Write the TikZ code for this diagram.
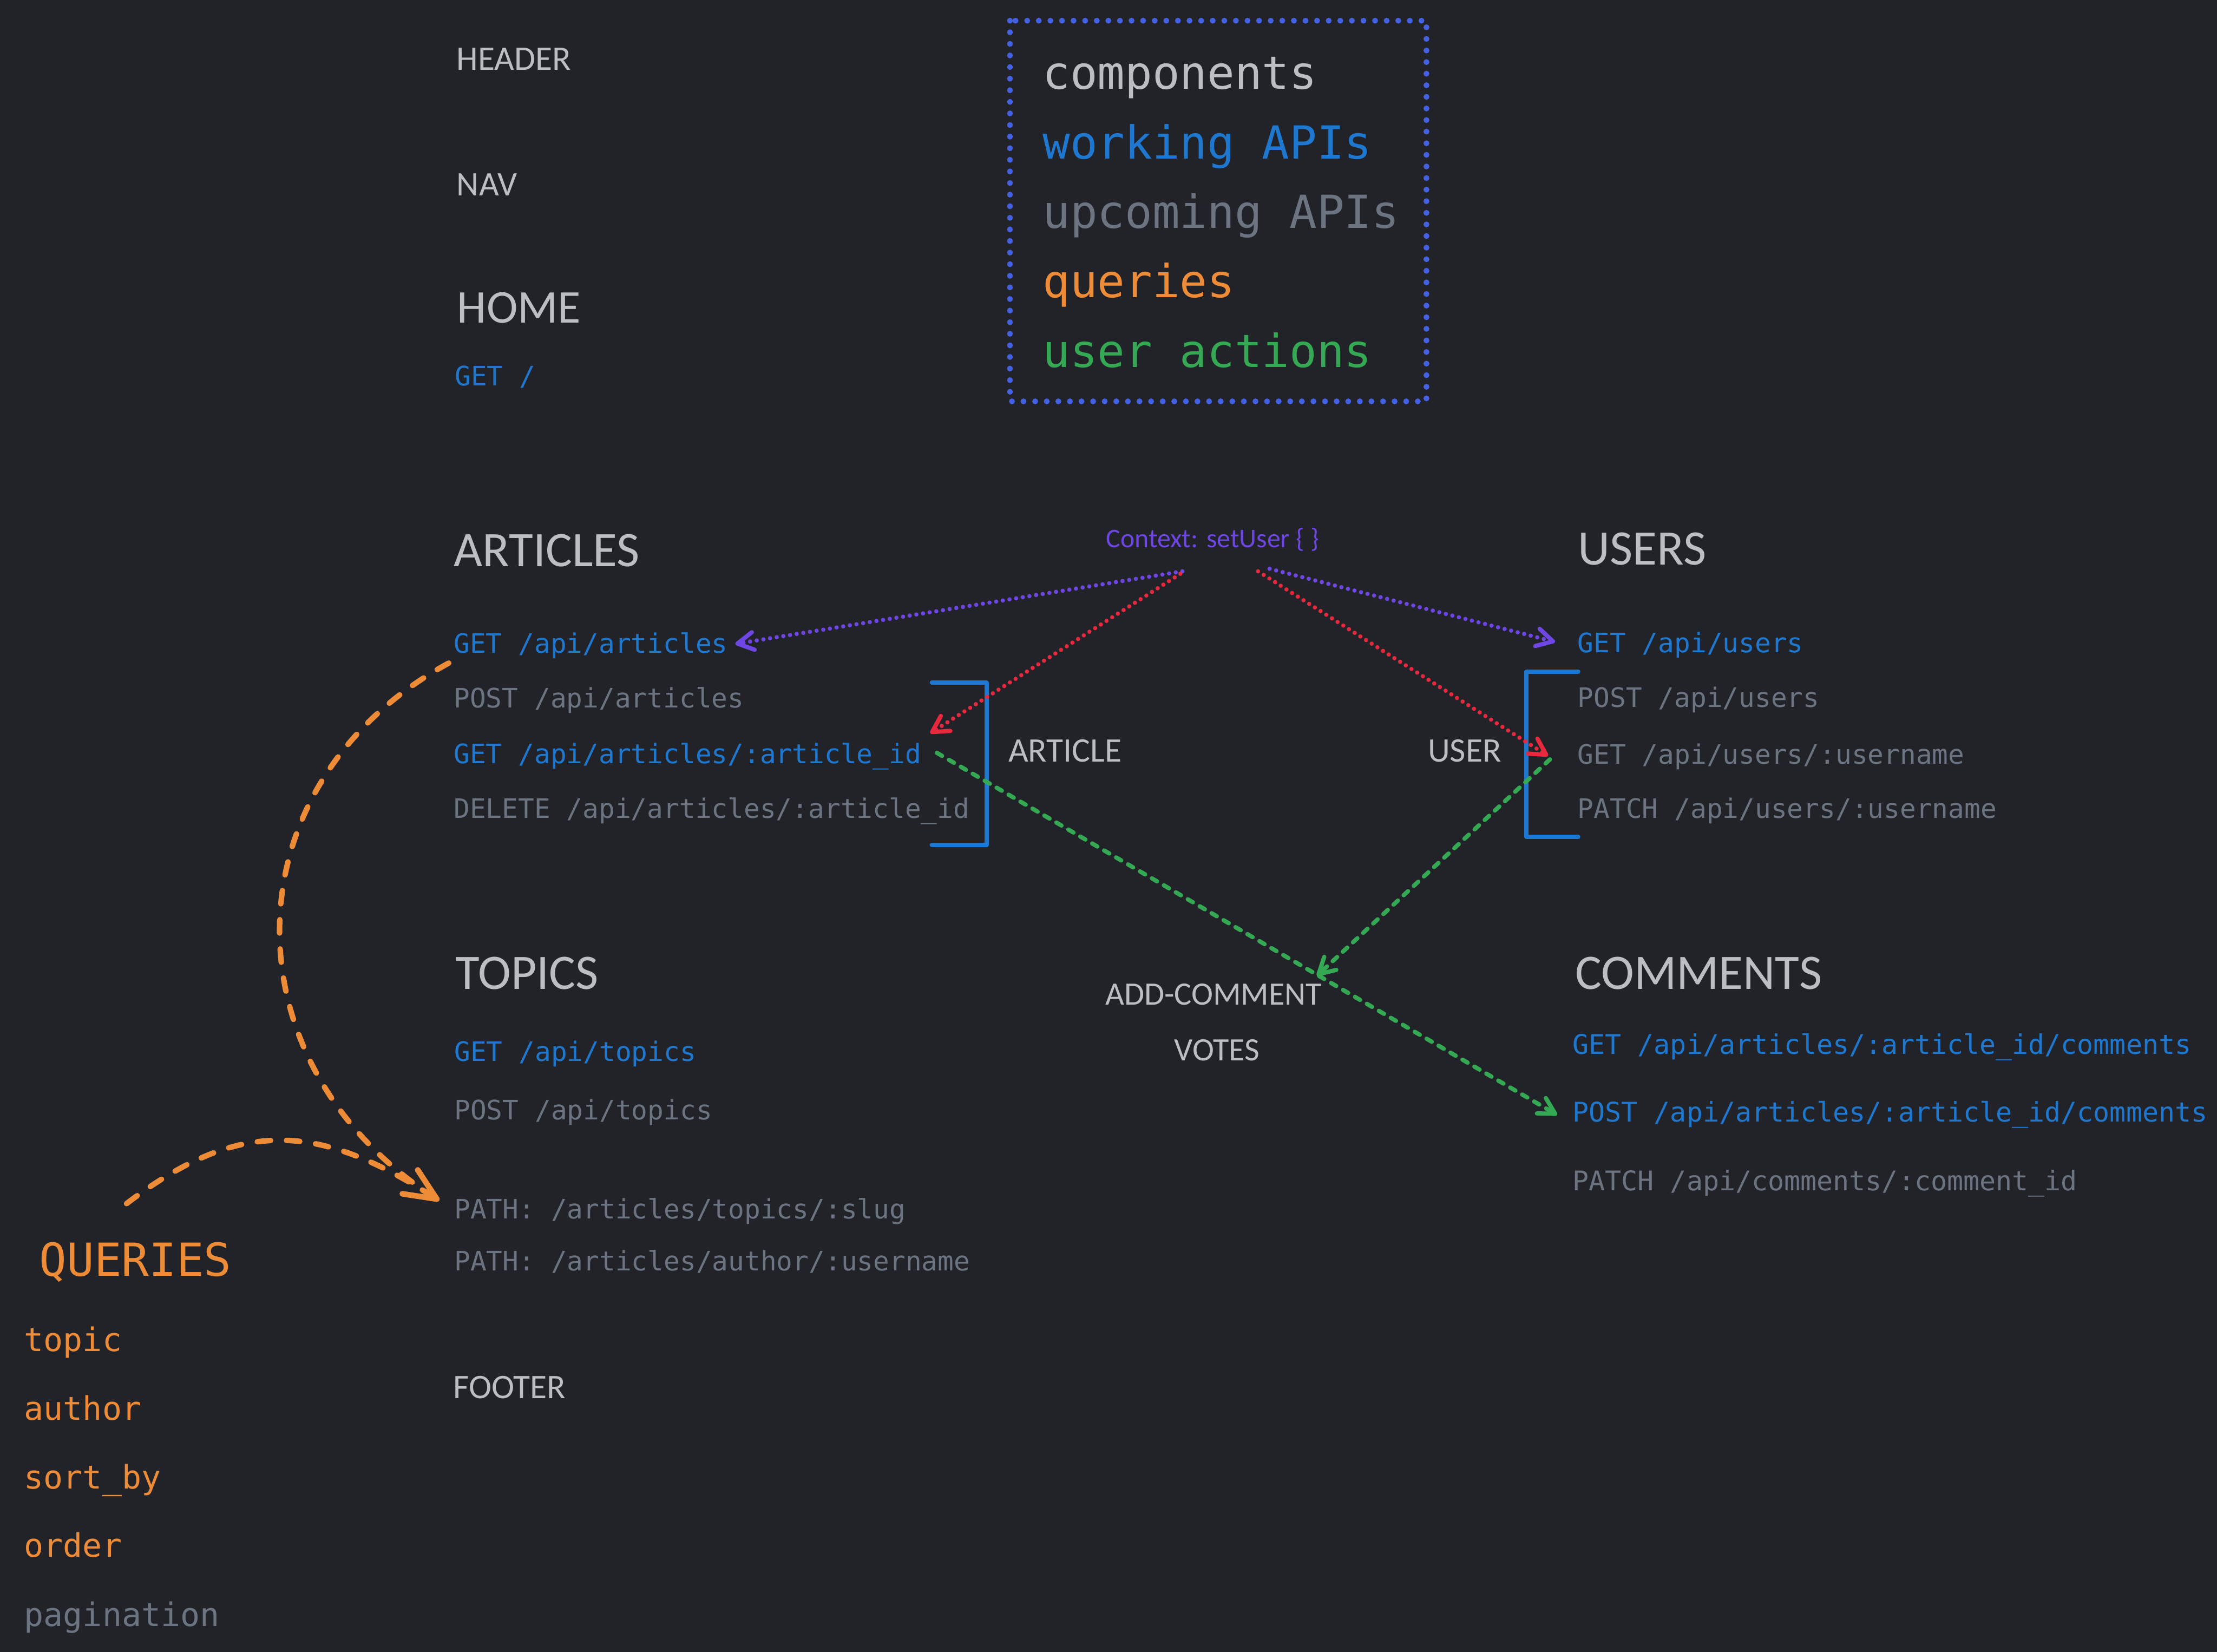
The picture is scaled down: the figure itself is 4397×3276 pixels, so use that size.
\documentclass[tikz,border=0pt]{standalone}
\usepackage{fontspec}
\setmainfont{Carlito}
\newfontfamily\monof{DejaVu Sans Mono}
\usetikzlibrary{arrows.meta}
\definecolor{bgc}{HTML}{212329}
\definecolor{lgray}{HTML}{BBBEC3}
\definecolor{wblue}{HTML}{1E78D0}
\definecolor{ugray}{HTML}{6B7480}
\definecolor{qorange}{HTML}{EE8B36}
\definecolor{ugreen}{HTML}{35A853}
\definecolor{cpurple}{HTML}{6E46E4}
\definecolor{cred}{HTML}{E8283C}
\definecolor{lblue}{HTML}{4461E3}
\tikzset{
 txt/.style={inner sep=0pt, outer sep=0pt, anchor=base west},
 compo/.style={txt, text=lgray, font=\fontsize{19.4pt}{23pt}\selectfont},
 heading/.style={txt, text=lgray, font=\fontsize{28pt}{33pt}\selectfont},
 homeh/.style={txt, text=lgray, font=\fontsize{26.5pt}{32pt}\selectfont},
 sublabel/.style={inner sep=0pt, outer sep=0pt, text=lgray, font=\fontsize{18.4pt}{23pt}\selectfont},
 api/.style={txt, font=\monof\fontsize{15.1pt}{18pt}\selectfont},
 apiw/.style={api, text=wblue},
 apiu/.style={api, text=ugray},
 capiw/.style={txt, text=wblue, font=\monof\fontsize{15.25pt}{18pt}\selectfont},
 capiu/.style={txt, text=ugray, font=\monof\fontsize{15.25pt}{18pt}\selectfont},
 legendtxt/.style={txt, font=\monof\fontsize{25.7pt}{30pt}\selectfont},
 qlist/.style={txt, font=\monof\fontsize{18.3pt}{22pt}\selectfont},
 ctxlabel/.style={inner sep=0pt, outer sep=0pt, anchor=base, text=cpurple, font=\fontsize{15.2pt}{18pt}\selectfont},
 tipthin/.style={-{Straight Barb[length=9pt,width=10pt,line width=2.4pt,round]}},
 dotline/.style={line width=2.4pt, line cap=round, dash pattern=on 0pt off 3.8pt, tipthin},
 greenline/.style={draw=ugreen, line width=2.4pt, line cap=round, dash pattern=on 3.4pt off 4.4pt, tipthin},
 orangeline/.style={draw=qorange, line width=3.1pt, line cap=round, dash pattern=on 7.5pt off 9pt, -{Straight Barb[length=18pt,width=16pt,line width=3.1pt,round]}},
 bracket/.style={draw=wblue, line width=2.4pt, line cap=round, line join=round}
}
\begin{document}
\begin{tikzpicture}[x=0.01cm,y=-0.01cm]
\fill[bgc] (0,0) rectangle (4397,3276);
\useasboundingbox (0,0) rectangle (4397,3276);

% left column components
\node[compo] (header) at (906,139) {HEADER};
\node[compo] (nav) at (906,388) {NAV};
\node[homeh] (home) at (907,640) {HOME};
\node[apiw] (gethome) at (902,765) {GET /};

% legend
\draw[draw=lblue, line width=3.3pt, line cap=round, dash pattern=on 0pt off 6.54pt] (2003,41) rectangle (2829,796);
\node[legendtxt, text=lgray] (lg1) at (2068,177) {components};
\node[legendtxt, text=wblue] (lg2) at (2068,315) {working APIs};
\node[legendtxt, text=ugray] (lg3) at (2068,453) {upcoming APIs};
\node[legendtxt, text=qorange] (lg4) at (2068,590) {queries};
\node[legendtxt, text=ugreen] (lg5) at (2068,728) {user actions};

% articles
\node[heading] (articles) at (900,1123) {ARTICLES};
\node[apiw] (gaa) at (900,1295) {GET /api/articles};
\node[apiu] (paa) at (900,1404) {POST /api/articles};
\node[apiw] (gaid) at (900,1514) {GET /api/articles/:article\_id};
\node[apiu] (daid) at (900,1623) {DELETE /api/articles/:article\_id};
\draw[bracket] (1848,1354) -- (1957,1354) -- (1957,1676) -- (1848,1676);
\node[compo] (artlbl) at (2000,1511) {ARTICLE};

% context
\node[ctxlabel] (ctx) at (2405,1086) {Context: setUser \{ \}};

% users
\node[heading] (users) at (3130,1120) {USERS};
\node[apiw] (gu) at (3129,1294) {GET /api/users};
\node[apiu] (pu) at (3129,1402) {POST /api/users};
\node[apiu] (guu) at (3129,1515) {GET /api/users/:username};
\node[apiu] (puu) at (3129,1623) {PATCH /api/users/:username};
\draw[bracket] (3130,1332) -- (3027,1332) -- (3027,1660) -- (3130,1660);
\node[compo] (usrlbl) at (2832,1511) {USER};

% topics
\node[heading] (topics) at (903,1962) {TOPICS};
\node[apiw] (gt) at (901,2105) {GET /api/topics};
\node[apiu] (pt) at (901,2221) {POST /api/topics};
\node[apiu] (ps) at (901,2417) {PATH: /articles/topics/:slug};
\node[apiu] (pa) at (901,2520) {PATH: /articles/author/:username};

% comments
\node[heading] (comments) at (3124,1962) {COMMENTS};
\node[capiw] (gc) at (3119,2091) {GET /api/articles/:article\_id/comments};
\node[capiw] (pc) at (3119,2225) {POST /api/articles/:article\_id/comments};
\node[capiu] (pcc) at (3119,2361) {PATCH /api/comments/:comment\_id};

% user actions
\node[sublabel, anchor=base] (addc) at (2407,1993) {ADD-COMMENT};
\node[sublabel, anchor=base] (votes) at (2414,2103) {VOTES};

% footer
\node[compo] (footer) at (899,2773) {FOOTER};

% queries
\node[legendtxt, text=qorange] (qr) at (78,2531) {QUERIES};
\node[qlist, text=qorange] (q1) at (48,2680) {topic};
\node[qlist, text=qorange] (q2) at (48,2816) {author};
\node[qlist, text=qorange] (q3) at (48,2953) {sort\_by};
\node[qlist, text=qorange] (q4) at (48,3088) {order};
\node[qlist, text=ugray] (q5) at (48,3225) {pagination};

% connectors: context
\draw[dotline, draw=cpurple] ([shift={(-60,47)}]ctx.base) -- ([shift={(15,-18)}]gaa.base east);
\draw[dotline, draw=cred] ([shift={(-64,52)}]ctx.base) -- ([shift={(18,-60)}]gaid.base east);
\draw[dotline, draw=cred] ([shift={(90,47)}]ctx.base) -- ([shift={(-59,-16)}]guu.base west);
\draw[dotline, draw=cpurple] ([shift={(113,42)}]ctx.base) -- ([shift={(-45,-21)}]gu.base west);

% connectors: user actions
\draw[greenline] ([shift={(31,-21)}]gaid.base east) -- ([shift={(-31,-14)}]pc.base west);
\draw[greenline] ([shift={(-55,-9)}]guu.base west) -- ([shift={(205,-58)}]addc.base);

% connectors: queries
\draw[orangeline] ([shift={(-10,20)}]gaa.base west) .. controls (450,1554) and (445,2107) .. ([shift={(-30,-36)}]ps.base west);
\draw[orangeline] ([shift={(173,-144)}]qr.base west) .. controls (482,2211) and (639,2232) .. ([shift={(-30,-36)}]ps.base west);
\end{tikzpicture}
\end{document}
